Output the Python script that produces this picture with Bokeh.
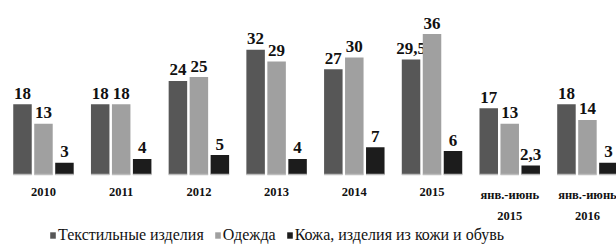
from bokeh.plotting import figure
from bokeh.models import ColumnDataSource, Range1d, Legend, LegendItem
from bokeh.transform import dodge
from bokeh.core.properties import value
from bokeh.embed import file_html
from bokeh.resources import INLINE

categories = ["2010", "2011", "2012", "2013", "2014", "2015",
              "янв.-июнь\n2015", "янв.-июнь\n2016"]
textiles = [18, 18, 24, 32, 27, 29.5, 17, 18]
clothing = [13, 18, 25, 29, 30, 36, 13, 14]
leather = [3, 4, 5, 4, 7, 6, 2.3, 3]
series_names = ["Текстильные изделия", "Одежда", "Кожа, изделия из кожи и обувь"]


def fmt(v):
    s = ("%g" % v)
    return s.replace(".", ",")


idx = list(range(len(categories)))
src = ColumnDataSource(dict(
    x=idx, cat=categories,
    t=textiles, c=clothing, l=leather,
    tl=[fmt(v) for v in textiles],
    cl=[fmt(v) for v in clothing],
    ll=[fmt(v) for v in leather],
    zero=[0] * len(idx),
))

p = figure(width=616, height=248, output_backend="svg", toolbar_location=None,
           x_range=Range1d(-0.553, 7.374), y_range=Range1d(-18.97, 44.62),
           min_border=0, min_border_left=0, min_border_right=0,
           min_border_top=0, min_border_bottom=0)
p.axis.visible = False
p.grid.visible = False
p.outline_line_color = None
p.background_fill_color = "white"
p.border_fill_color = "white"

w = 0.238
off = 0.27
colors = ["#575757", "#a0a0a0", "#1c1c1c"]
fields = ["t", "c", "l"]
lfields = ["tl", "cl", "ll"]
offsets = [-off, 0, off]
renderers = []
for f, lf, col, o in zip(fields, lfields, colors, offsets):
    r = p.vbar(x=dodge("x", o), top=f, width=w, bottom=0, source=src,
               fill_color=col, line_color=None)
    renderers.append(r)
    p.text(x=dodge("x", o), y=f, text=lf, source=src,
           text_align="center", text_baseline="alphabetic", y_offset=-11,
           text_font=value("Liberation Serif"), text_font_style="bold",
           text_font_size="17px", text_color="#111111")
    # thin grey base line under each bar
    p.segment(x0=dodge("x", o - w / 2), x1=dodge("x", o + w / 2), y0="zero", y1="zero",
              source=src, line_color="#bdbdbd", line_width=1.5)

p.text(x="x", y="zero", text="cat", source=src, text_align="center",
       text_baseline="top", y_offset=13, text_line_height=1.55,
       text_font=value("Liberation Serif"), text_font_style="bold",
       text_font_size="12.5px", text_color="#111111")

legend = Legend(items=[LegendItem(label=n, renderers=[r]) for n, r in zip(series_names, renderers)],
                location=(49, 4), orientation="horizontal")
legend.padding = 0
legend.margin = 0
legend.border_line_color = None
legend.background_fill_alpha = 0
legend.glyph_width = 7
legend.glyph_height = 8
legend.label_height = 16
legend.label_standoff = 2
legend.spacing = 10
legend.label_text_font = "Liberation Serif"
legend.label_text_font_size = "16px"
legend.label_text_color = "#111111"
p.add_layout(legend, "center")

open("out.html", "w").write(file_html(p, INLINE))
